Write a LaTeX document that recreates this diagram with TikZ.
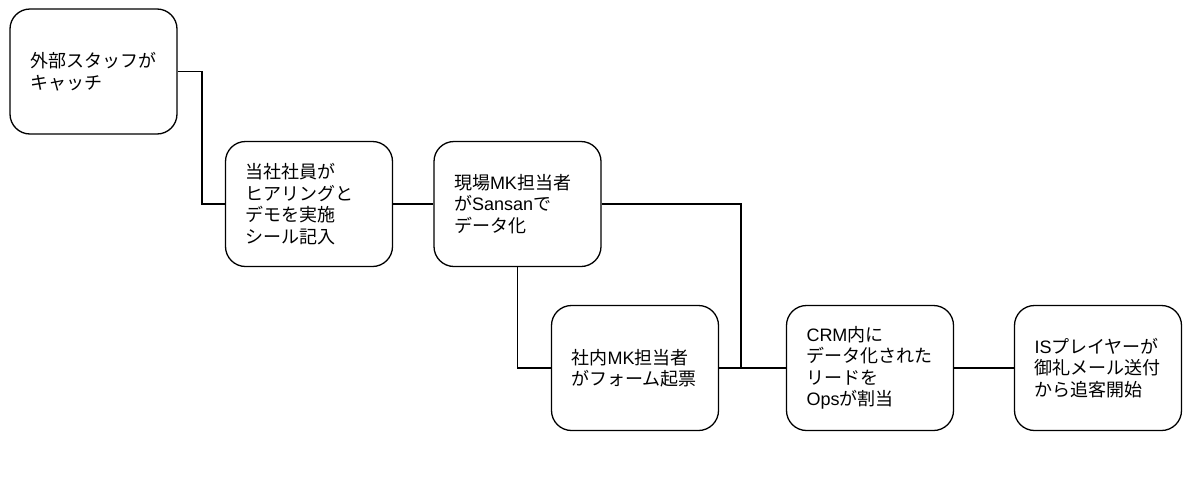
\documentclass[tikz,border=0pt]{standalone}
\usepackage{fontspec}
\setmainfont{Liberation Sans}
\newfontfamily\cjk{Noto Sans CJK JP}
\newcommand{\J}[1]{{\cjk #1}}
\begin{document}
\begin{tikzpicture}[x=1pt,y=-1pt,
  box/.style={draw=black,line width=1.3pt,rounded corners=20pt,fill=white,
    text width=127pt,inner xsep=20pt,inner ysep=0pt,minimum height=125pt,
    align=left,font=\fontsize{18}{21.5}\selectfont},
  link/.style={draw=black,line width=1.3pt}]
\useasboundingbox[fill=white] (0,0) rectangle (1200,477);
\node[box] (n1) at (93.5,71.5) {\J{外部スタッフが}\\\J{キャッチ}};
\node[box] (n2) at (309,204) {\J{当社社員が}\\\J{ヒアリングと}\\\J{デモを実施}\\\J{シール記入}};
\node[box] (n3) at (517.5,204) {\J{現場}MK\J{担当者}\\\J{が}Sansan\J{で}\\\J{データ化}};
\node[box] (n4) at (635,368) {\J{社内}MK\J{担当者}\\\J{がフォーム起票}};
\node[box] (n5) at (870,368) {CRM\J{内に}\\\J{データ化された}\\\J{リードを}\\Ops\J{が割当}};
\node[box] (n6) at (1098,368) {IS\J{プレイヤーが}\\\J{御礼メール送付}\\\J{から追客開始}};
\coordinate (m1) at (202,0);
\coordinate (j) at (741,368);
\draw[link] (n1.east) -- (n1.east -| m1) |- (n2.west);
\draw[link] (n2.east) -- (n3.west);
\draw[link] (n3.east) -| (j);
\draw[link] (n3.south) |- (n4.west);
\draw[link] (n4.east) -- (n5.west);
\draw[link] (n5.east) -- (n6.west);
\end{tikzpicture}
\end{document}
